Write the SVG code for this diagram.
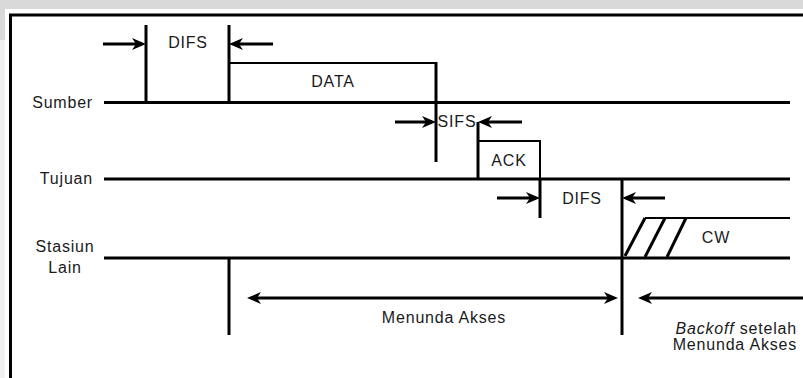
<svg xmlns="http://www.w3.org/2000/svg" width="803" height="378" viewBox="0 0 803 378">
<style>
  .t { font-family: "Liberation Sans", Arial, sans-serif; font-size: 16px; letter-spacing: 0.8px; fill: #1a1a1a; }
  .m { text-anchor: middle; }
  .e { text-anchor: end; }
  .thick { stroke: #000; stroke-width: 3; fill: none; }
  .thin { stroke: #000; stroke-width: 2; fill: none; }
  .arr { stroke: #000; stroke-width: 3; fill: none; marker-end: url(#ah); }
</style>
<defs>
  <marker id="ah" markerUnits="userSpaceOnUse" viewBox="0 0 14 12" markerWidth="14" markerHeight="12" refX="10" refY="6" orient="auto-start-reverse">
    <path d="M0,0 L14,6 L0,12 L4,6 z" fill="#000"/>
  </marker>
</defs>
<rect x="0" y="0" width="803" height="378" fill="#fff"/>
<rect x="0" y="0" width="803" height="9" fill="#d9d9d9"/>
<rect x="0" y="0" width="5" height="40" fill="#d9d9d9"/>
<rect x="0" y="40" width="5" height="338" fill="#f0f0f0"/>
<path d="M10.5,378 V15 H803" class="thick"/>

<g id="sumber">
  <text class="t e" x="93" y="108">Sumber</text>
  <path d="M104,102.5 H790" class="thick"/>
</g>
<g id="tujuan">
  <text class="t e" x="93" y="184">Tujuan</text>
  <path d="M104,179 H790" class="thick"/>
</g>
<g id="stasiun-lain">
  <text class="t m" x="65" y="252">Stasiun</text>
  <text class="t m" x="65" y="273">Lain</text>
  <path d="M104,258 H790" class="thick"/>
</g>

<g id="difs1">
  <path d="M146,25 V102 M229,25 V102" class="thick"/>
  <text class="t m" x="188" y="48">DIFS</text>
</g>
<g id="data">
  <path d="M229,63 H436" class="thin"/>
  <path d="M436,62 V162" class="thick"/>
  <text class="t m" x="333" y="87">DATA</text>
</g>
<g id="sifs">
  <text class="t m" x="457" y="127">SIFS</text>
</g>
<g id="ack">
  <path d="M478,122 V179" class="thick"/>
  <path d="M477,141 H540 V179" class="thin"/>
  <text class="t m" x="509" y="166">ACK</text>
</g>
<g id="difs2">
  <path d="M540,179 V218" class="thick"/>
  <path d="M622,179 V335" class="thick"/>
  <text class="t m" x="582" y="204">DIFS</text>
</g>
<g id="cw">
  <path d="M645,218 H790" class="thin"/>
  <path d="M625,256 L645,218 M645,257 L665,218 M667,257 L686,218" class="thick"/>
  <text class="t m" x="716" y="243">CW</text>
</g>
<g id="defer">
  <path d="M229,258 V335" class="thick"/>
  <text class="t m" x="444" y="323">Menunda Akses</text>
  <text class="t e" x="797" y="334"><tspan font-style="italic">Backoff</tspan> setelah</text>
  <text class="t e" x="797" y="350">Menunda Akses</text>
</g>

<g id="connectors">
  <path d="M103,44 H142" class="arr"/>
  <path d="M273,44 H233" class="arr"/>
  <path d="M395,122 H432" class="arr"/>
  <path d="M522,122 H482" class="arr"/>
  <path d="M497,198 H536" class="arr"/>
  <path d="M665,198 H626" class="arr"/>
  <path d="M251,298 H614" class="arr" style="marker-start:url(#ah)"/>
  <path d="M803,298 H642" class="arr"/>
</g>
</svg>
